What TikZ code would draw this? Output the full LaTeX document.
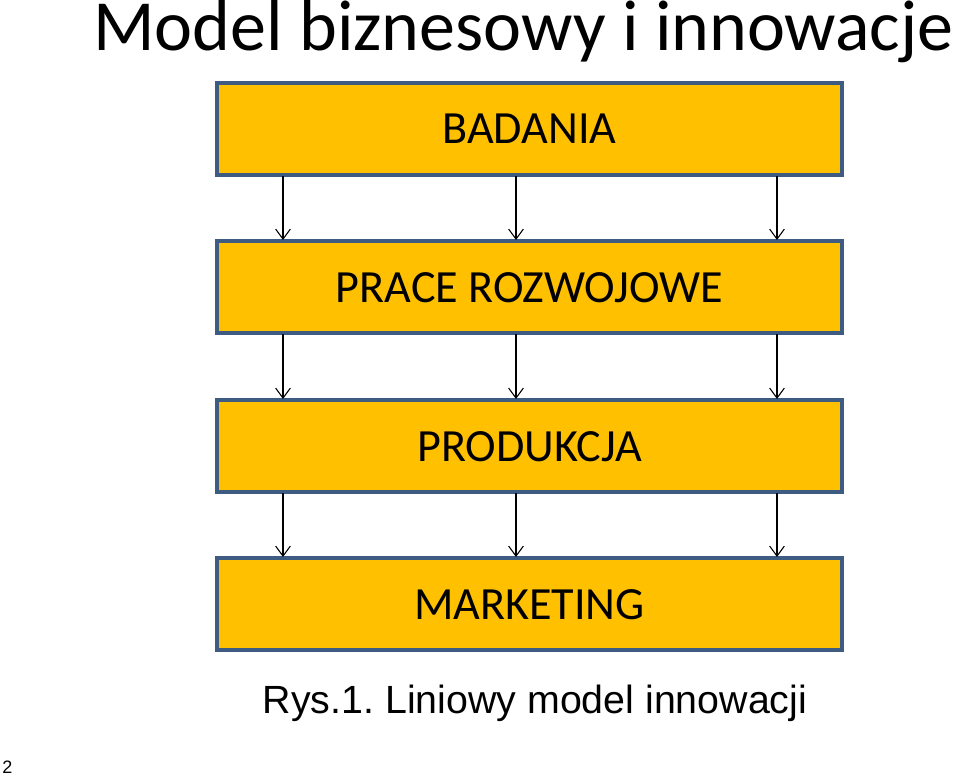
\documentclass[tikz,border=0pt]{standalone}
\usepackage{fontspec}
\setmainfont{Carlito}
\newfontfamily\arialfont{Liberation Sans}
\usetikzlibrary{arrows.meta}
\frenchspacing
\definecolor{boxfill}{RGB}{255,192,0}
\definecolor{boxedge}{RGB}{62,92,130}
\tikzset{
  stagebox/.style={draw=boxedge, line width=2.4pt, fill=boxfill},
  stagetext/.style={anchor=base, inner sep=0pt, font=\fontsize{34.6}{38}\selectfont},
  flow/.style={draw=black, line width=0.8pt, -{Straight Barb[length=7.5pt,width=11pt,line width=0.8pt]}},
}
\begin{document}
\begin{tikzpicture}[x=0.75pt,y=-0.75pt]
\useasboundingbox (0,0) rectangle (960,776);
\node[anchor=base, inner sep=0pt, font=\fontsize{54}{58}\selectfont] (title) at (523.5,50) {Model biznesowy i innowacje};
% boxes
\path[stagebox] (217,83) rectangle (842,175);
\path[stagebox] (217,241) rectangle (842,333);
\path[stagebox] (217,400) rectangle (842,492);
\path[stagebox] (217,558) rectangle (842,650);
\node[stagetext] (b1) at (529.5,143) {BADANIA};
\node[stagetext] (b2) at (529.5,302) {PRACE ROZWOJOWE};
\node[stagetext] (b3) at (529.5,461) {PRODUKCJA};
\node[stagetext] (b4) at (529.5,619) {MARKETING};
% arrow endpoints
\foreach \i/\t/\b in {1/176/240, 2/334/399, 3/493/557}{
  \foreach \x/\k in {283/a, 516/b, 777/c}{
    \coordinate (s\i\k) at (\x,\t);
    \coordinate (e\i\k) at (\x,\b);
    \draw[flow] (s\i\k) -- (e\i\k);
  }
}
\node[anchor=base, inner sep=0pt, font=\arialfont\fontsize{29.5}{33}\selectfont] (cap) at (535,713) {Rys.1. Liniowy model innowacji};
\node[anchor=base west, inner sep=0pt, font=\arialfont\fontsize{13.5}{16}\selectfont] (pg) at (2,773) {2};
\end{tikzpicture}
\end{document}
